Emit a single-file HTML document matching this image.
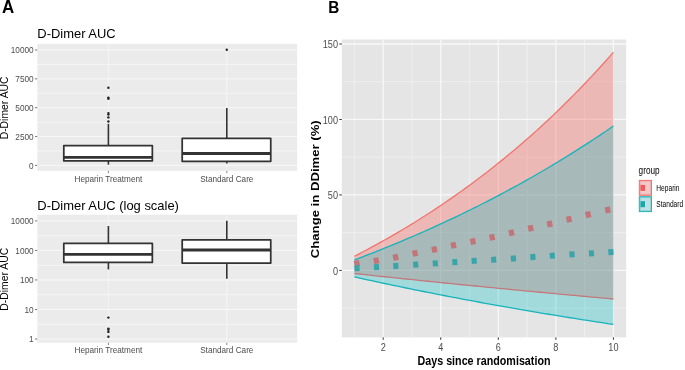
<!DOCTYPE html>
<html><head><meta charset="utf-8"><style>
html,body{margin:0;padding:0;background:#fff;width:685px;height:370px;overflow:hidden;font-family:"Liberation Sans",sans-serif;}
svg{display:block;filter:blur(0.3px);}
</style></head><body>
<svg width="685" height="370" viewBox="0 0 685 370">
<g transform="translate(2.1,12.9) scale(0.95,1)"><text x="0" y="0" font-size="17.8" font-weight="bold" fill="#000" font-family="Liberation Sans, sans-serif">A</text></g>
<g transform="translate(328.3,13.0) scale(0.88,1)"><text x="0" y="0" font-size="17.4" font-weight="bold" fill="#000" font-family="Liberation Sans, sans-serif">B</text></g>
<rect x="37.3" y="43.8" width="259.90" height="127.00" fill="#EBEBEB"/>
<line x1="37.3" x2="297.2" y1="150.97" y2="150.97" stroke="#F7F7F7" stroke-width="0.85"/>
<line x1="37.3" x2="297.2" y1="122.12" y2="122.12" stroke="#F7F7F7" stroke-width="0.85"/>
<line x1="37.3" x2="297.2" y1="93.28" y2="93.28" stroke="#F7F7F7" stroke-width="0.85"/>
<line x1="37.3" x2="297.2" y1="64.43" y2="64.43" stroke="#F7F7F7" stroke-width="0.85"/>
<line x1="37.3" x2="297.2" y1="165.40" y2="165.40" stroke="#F9F9F9" stroke-width="0.95"/>
<line x1="37.3" x2="297.2" y1="136.55" y2="136.55" stroke="#F9F9F9" stroke-width="0.95"/>
<line x1="37.3" x2="297.2" y1="107.70" y2="107.70" stroke="#F9F9F9" stroke-width="0.95"/>
<line x1="37.3" x2="297.2" y1="78.85" y2="78.85" stroke="#F9F9F9" stroke-width="0.95"/>
<line x1="37.3" x2="297.2" y1="50.00" y2="50.00" stroke="#F9F9F9" stroke-width="0.95"/>
<line x1="108.4" x2="108.4" y1="43.8" y2="170.8" stroke="#F6F6F6" stroke-width="0.85"/>
<line x1="226.8" x2="226.8" y1="43.8" y2="170.8" stroke="#F6F6F6" stroke-width="0.85"/>
<line x1="35.0" x2="37.3" y1="165.40" y2="165.40" stroke="#555" stroke-width="0.8"/>
<g transform="translate(33.7,168.60) scale(0.92,1)"><text x="0" y="0" font-size="9.0" fill="#4D4D4D" text-anchor="end" font-family="Liberation Sans, sans-serif">0</text></g>
<line x1="35.0" x2="37.3" y1="136.55" y2="136.55" stroke="#555" stroke-width="0.8"/>
<g transform="translate(33.7,139.75) scale(0.92,1)"><text x="0" y="0" font-size="9.0" fill="#4D4D4D" text-anchor="end" font-family="Liberation Sans, sans-serif">2500</text></g>
<line x1="35.0" x2="37.3" y1="107.70" y2="107.70" stroke="#555" stroke-width="0.8"/>
<g transform="translate(33.7,110.90) scale(0.92,1)"><text x="0" y="0" font-size="9.0" fill="#4D4D4D" text-anchor="end" font-family="Liberation Sans, sans-serif">5000</text></g>
<line x1="35.0" x2="37.3" y1="78.85" y2="78.85" stroke="#555" stroke-width="0.8"/>
<g transform="translate(33.7,82.05) scale(0.92,1)"><text x="0" y="0" font-size="9.0" fill="#4D4D4D" text-anchor="end" font-family="Liberation Sans, sans-serif">7500</text></g>
<line x1="35.0" x2="37.3" y1="50.00" y2="50.00" stroke="#555" stroke-width="0.8"/>
<g transform="translate(33.7,53.20) scale(0.92,1)"><text x="0" y="0" font-size="9.0" fill="#4D4D4D" text-anchor="end" font-family="Liberation Sans, sans-serif">10000</text></g>
<line x1="108.4" x2="108.4" y1="170.8" y2="173.10000000000002" stroke="#666" stroke-width="0.8"/>
<text x="108.4" y="181.50" font-size="8.2" fill="#4D4D4D" text-anchor="middle" font-family="Liberation Sans, sans-serif">Heparin Treatment</text>
<line x1="226.8" x2="226.8" y1="170.8" y2="173.10000000000002" stroke="#666" stroke-width="0.8"/>
<text x="226.8" y="181.50" font-size="8.2" fill="#4D4D4D" text-anchor="middle" font-family="Liberation Sans, sans-serif">Standard Care</text>
<text x="37.3" y="38.2" font-size="12.95" fill="#000" font-family="Liberation Sans, sans-serif">D-Dimer AUC</text>
<text transform="translate(8.1,107.90) rotate(-90)" x="0" y="0" font-size="10.4" fill="#000" text-anchor="middle" font-family="Liberation Sans, sans-serif">D-Dimer AUC</text>
<line x1="108.4" x2="108.4" y1="123.9" y2="145.5" stroke="#333" stroke-width="1.6"/>
<line x1="108.4" x2="108.4" y1="160.9" y2="164.7" stroke="#333" stroke-width="1.6"/>
<rect x="63.80" y="145.5" width="88.55" height="15.40" fill="#fff" stroke="#333" stroke-width="1.75" stroke-linejoin="round"/>
<line x1="63.80" x2="152.35" y1="157.3" y2="157.3" stroke="#333" stroke-width="2.8"/>
<line x1="226.8" x2="226.8" y1="107.9" y2="138.4" stroke="#333" stroke-width="1.6"/>
<line x1="226.8" x2="226.8" y1="161.3" y2="163.5" stroke="#333" stroke-width="1.6"/>
<rect x="182.20" y="138.4" width="88.55" height="22.90" fill="#fff" stroke="#333" stroke-width="1.75" stroke-linejoin="round"/>
<line x1="182.20" x2="270.75" y1="153.5" y2="153.5" stroke="#333" stroke-width="2.8"/>
<circle cx="108.4" cy="87.7" r="1.2" fill="#222"/>
<circle cx="108.4" cy="97.6" r="1.2" fill="#222"/>
<circle cx="108.4" cy="98.7" r="1.2" fill="#222"/>
<circle cx="108.4" cy="113.1" r="1.2" fill="#222"/>
<circle cx="108.4" cy="114.6" r="1.2" fill="#222"/>
<circle cx="108.4" cy="117.4" r="1.2" fill="#222"/>
<circle cx="108.4" cy="121.5" r="1.2" fill="#222"/>
<circle cx="226.8" cy="49.8" r="1.2" fill="#222"/>
<rect x="37.3" y="214.7" width="259.90" height="128.00" fill="#EBEBEB"/>
<line x1="37.3" x2="297.2" y1="324.24" y2="324.24" stroke="#F7F7F7" stroke-width="0.85"/>
<line x1="37.3" x2="297.2" y1="294.71" y2="294.71" stroke="#F7F7F7" stroke-width="0.85"/>
<line x1="37.3" x2="297.2" y1="265.19" y2="265.19" stroke="#F7F7F7" stroke-width="0.85"/>
<line x1="37.3" x2="297.2" y1="235.66" y2="235.66" stroke="#F7F7F7" stroke-width="0.85"/>
<line x1="37.3" x2="297.2" y1="339.00" y2="339.00" stroke="#F9F9F9" stroke-width="0.95"/>
<line x1="37.3" x2="297.2" y1="309.48" y2="309.48" stroke="#F9F9F9" stroke-width="0.95"/>
<line x1="37.3" x2="297.2" y1="279.95" y2="279.95" stroke="#F9F9F9" stroke-width="0.95"/>
<line x1="37.3" x2="297.2" y1="250.43" y2="250.43" stroke="#F9F9F9" stroke-width="0.95"/>
<line x1="37.3" x2="297.2" y1="220.90" y2="220.90" stroke="#F9F9F9" stroke-width="0.95"/>
<line x1="108.4" x2="108.4" y1="214.7" y2="342.7" stroke="#F6F6F6" stroke-width="0.85"/>
<line x1="226.8" x2="226.8" y1="214.7" y2="342.7" stroke="#F6F6F6" stroke-width="0.85"/>
<line x1="35.0" x2="37.3" y1="339.00" y2="339.00" stroke="#555" stroke-width="0.8"/>
<g transform="translate(33.7,342.20) scale(0.92,1)"><text x="0" y="0" font-size="9.0" fill="#4D4D4D" text-anchor="end" font-family="Liberation Sans, sans-serif">1</text></g>
<line x1="35.0" x2="37.3" y1="309.48" y2="309.48" stroke="#555" stroke-width="0.8"/>
<g transform="translate(33.7,312.68) scale(0.92,1)"><text x="0" y="0" font-size="9.0" fill="#4D4D4D" text-anchor="end" font-family="Liberation Sans, sans-serif">10</text></g>
<line x1="35.0" x2="37.3" y1="279.95" y2="279.95" stroke="#555" stroke-width="0.8"/>
<g transform="translate(33.7,283.15) scale(0.92,1)"><text x="0" y="0" font-size="9.0" fill="#4D4D4D" text-anchor="end" font-family="Liberation Sans, sans-serif">100</text></g>
<line x1="35.0" x2="37.3" y1="250.43" y2="250.43" stroke="#555" stroke-width="0.8"/>
<g transform="translate(33.7,253.62) scale(0.92,1)"><text x="0" y="0" font-size="9.0" fill="#4D4D4D" text-anchor="end" font-family="Liberation Sans, sans-serif">1000</text></g>
<line x1="35.0" x2="37.3" y1="220.90" y2="220.90" stroke="#555" stroke-width="0.8"/>
<g transform="translate(33.7,224.10) scale(0.92,1)"><text x="0" y="0" font-size="9.0" fill="#4D4D4D" text-anchor="end" font-family="Liberation Sans, sans-serif">10000</text></g>
<line x1="108.4" x2="108.4" y1="342.7" y2="345.0" stroke="#666" stroke-width="0.8"/>
<text x="108.4" y="353.40" font-size="8.2" fill="#4D4D4D" text-anchor="middle" font-family="Liberation Sans, sans-serif">Heparin Treatment</text>
<line x1="226.8" x2="226.8" y1="342.7" y2="345.0" stroke="#666" stroke-width="0.8"/>
<text x="226.8" y="353.40" font-size="8.2" fill="#4D4D4D" text-anchor="middle" font-family="Liberation Sans, sans-serif">Standard Care</text>
<text x="37.3" y="210.2" font-size="12.95" fill="#000" font-family="Liberation Sans, sans-serif">D-Dimer AUC (log scale)</text>
<text transform="translate(8.1,279.30) rotate(-90)" x="0" y="0" font-size="10.4" fill="#000" text-anchor="middle" font-family="Liberation Sans, sans-serif">D-Dimer AUC</text>
<line x1="108.4" x2="108.4" y1="226.0" y2="243.4" stroke="#333" stroke-width="1.6"/>
<line x1="108.4" x2="108.4" y1="262.4" y2="269.4" stroke="#333" stroke-width="1.6"/>
<rect x="63.80" y="243.4" width="88.55" height="19.00" fill="#fff" stroke="#333" stroke-width="1.75" stroke-linejoin="round"/>
<line x1="63.80" x2="152.35" y1="254.3" y2="254.3" stroke="#333" stroke-width="2.8"/>
<line x1="226.8" x2="226.8" y1="220.8" y2="239.8" stroke="#333" stroke-width="1.6"/>
<line x1="226.8" x2="226.8" y1="263.0" y2="278.8" stroke="#333" stroke-width="1.6"/>
<rect x="182.20" y="239.8" width="88.55" height="23.20" fill="#fff" stroke="#333" stroke-width="1.75" stroke-linejoin="round"/>
<line x1="182.20" x2="270.75" y1="250.0" y2="250.0" stroke="#333" stroke-width="2.8"/>
<circle cx="108.4" cy="317.6" r="1.2" fill="#222"/>
<circle cx="108.4" cy="328.6" r="1.2" fill="#222"/>
<circle cx="108.4" cy="329.8" r="1.2" fill="#222"/>
<circle cx="108.4" cy="331.9" r="1.2" fill="#222"/>
<circle cx="108.4" cy="336.7" r="1.2" fill="#222"/>
<rect x="341.8" y="39.5" width="284.40" height="297.90" fill="#E5E5E5"/>
<line x1="341.8" x2="626.2" y1="308.13" y2="308.13" stroke="#EFEFEF" stroke-width="0.9"/>
<line x1="341.8" x2="626.2" y1="232.67" y2="232.67" stroke="#EFEFEF" stroke-width="0.9"/>
<line x1="341.8" x2="626.2" y1="157.20" y2="157.20" stroke="#EFEFEF" stroke-width="0.9"/>
<line x1="341.8" x2="626.2" y1="81.74" y2="81.74" stroke="#EFEFEF" stroke-width="0.9"/>
<line x1="354.40" x2="354.40" y1="39.5" y2="337.4" stroke="#EFEFEF" stroke-width="0.9"/>
<line x1="411.96" x2="411.96" y1="39.5" y2="337.4" stroke="#EFEFEF" stroke-width="0.9"/>
<line x1="469.52" x2="469.52" y1="39.5" y2="337.4" stroke="#EFEFEF" stroke-width="0.9"/>
<line x1="527.08" x2="527.08" y1="39.5" y2="337.4" stroke="#EFEFEF" stroke-width="0.9"/>
<line x1="584.64" x2="584.64" y1="39.5" y2="337.4" stroke="#EFEFEF" stroke-width="0.9"/>
<line x1="341.8" x2="626.2" y1="270.40" y2="270.40" stroke="#F8F8F8" stroke-width="1.3"/>
<line x1="341.8" x2="626.2" y1="194.93" y2="194.93" stroke="#F8F8F8" stroke-width="1.3"/>
<line x1="341.8" x2="626.2" y1="119.47" y2="119.47" stroke="#F8F8F8" stroke-width="1.3"/>
<line x1="341.8" x2="626.2" y1="44.00" y2="44.00" stroke="#F8F8F8" stroke-width="1.3"/>
<line x1="383.18" x2="383.18" y1="39.5" y2="337.4" stroke="#F8F8F8" stroke-width="1.3"/>
<line x1="440.74" x2="440.74" y1="39.5" y2="337.4" stroke="#F8F8F8" stroke-width="1.3"/>
<line x1="498.30" x2="498.30" y1="39.5" y2="337.4" stroke="#F8F8F8" stroke-width="1.3"/>
<line x1="555.86" x2="555.86" y1="39.5" y2="337.4" stroke="#F8F8F8" stroke-width="1.3"/>
<line x1="613.42" x2="613.42" y1="39.5" y2="337.4" stroke="#F8F8F8" stroke-width="1.3"/>
<path d="M354.40,256.28 L358.72,254.05 L363.03,251.79 L367.35,249.50 L371.67,247.18 L375.98,244.83 L380.30,242.44 L384.62,240.03 L388.94,237.58 L393.25,235.10 L397.57,232.58 L401.89,230.03 L406.20,227.45 L410.52,224.83 L414.84,222.18 L419.15,219.49 L423.47,216.76 L427.79,214.00 L432.11,211.20 L436.42,208.36 L440.74,205.48 L445.06,202.57 L449.37,199.61 L453.69,196.62 L458.01,193.58 L462.32,190.51 L466.64,187.39 L470.96,184.23 L475.28,181.03 L479.59,177.78 L483.91,174.49 L488.23,171.16 L492.54,167.78 L496.86,164.35 L501.18,160.88 L505.50,157.37 L509.81,153.80 L514.13,150.19 L518.45,146.52 L522.76,142.81 L527.08,139.05 L531.40,135.24 L535.71,131.37 L540.03,127.46 L544.35,123.49 L548.66,119.47 L552.98,115.39 L557.30,111.26 L561.62,107.07 L565.93,102.82 L570.25,98.52 L574.57,94.16 L578.88,89.74 L583.20,85.27 L587.52,80.73 L591.84,76.13 L596.15,71.46 L600.47,66.74 L604.79,61.95 L609.10,57.09 L613.42,52.18 L613.42,298.99 L609.10,298.60 L604.79,298.22 L600.47,297.83 L596.15,297.44 L591.84,297.05 L587.52,296.65 L583.20,296.26 L578.88,295.87 L574.57,295.47 L570.25,295.07 L565.93,294.68 L561.62,294.28 L557.30,293.87 L552.98,293.47 L548.66,293.07 L544.35,292.66 L540.03,292.26 L535.71,291.85 L531.40,291.44 L527.08,291.03 L522.76,290.62 L518.45,290.21 L514.13,289.80 L509.81,289.38 L505.50,288.96 L501.18,288.55 L496.86,288.13 L492.54,287.71 L488.23,287.29 L483.91,286.86 L479.59,286.44 L475.28,286.01 L470.96,285.59 L466.64,285.16 L462.32,284.73 L458.01,284.30 L453.69,283.87 L449.37,283.43 L445.06,283.00 L440.74,282.56 L436.42,282.12 L432.11,281.68 L427.79,281.24 L423.47,280.80 L419.15,280.36 L414.84,279.91 L410.52,279.47 L406.20,279.02 L401.89,278.57 L397.57,278.12 L393.25,277.67 L388.94,277.21 L384.62,276.76 L380.30,276.30 L375.98,275.85 L371.67,275.39 L367.35,274.93 L363.03,274.46 L358.72,274.00 L354.40,273.54Z" fill="#F8766D" fill-opacity="0.4"/>
<path d="M354.40,256.28 L358.72,254.05 L363.03,251.79 L367.35,249.50 L371.67,247.18 L375.98,244.83 L380.30,242.44 L384.62,240.03 L388.94,237.58 L393.25,235.10 L397.57,232.58 L401.89,230.03 L406.20,227.45 L410.52,224.83 L414.84,222.18 L419.15,219.49 L423.47,216.76 L427.79,214.00 L432.11,211.20 L436.42,208.36 L440.74,205.48 L445.06,202.57 L449.37,199.61 L453.69,196.62 L458.01,193.58 L462.32,190.51 L466.64,187.39 L470.96,184.23 L475.28,181.03 L479.59,177.78 L483.91,174.49 L488.23,171.16 L492.54,167.78 L496.86,164.35 L501.18,160.88 L505.50,157.37 L509.81,153.80 L514.13,150.19 L518.45,146.52 L522.76,142.81 L527.08,139.05 L531.40,135.24 L535.71,131.37 L540.03,127.46 L544.35,123.49 L548.66,119.47 L552.98,115.39 L557.30,111.26 L561.62,107.07 L565.93,102.82 L570.25,98.52 L574.57,94.16 L578.88,89.74 L583.20,85.27 L587.52,80.73 L591.84,76.13 L596.15,71.46 L600.47,66.74 L604.79,61.95 L609.10,57.09 L613.42,52.18" fill="none" stroke="rgb(242,116,110)" stroke-width="1.3"/>
<path d="M354.40,259.93 L358.72,258.29 L363.03,256.64 L367.35,254.98 L371.67,253.29 L375.98,251.59 L380.30,249.88 L384.62,248.14 L388.94,246.39 L393.25,244.62 L397.57,242.83 L401.89,241.03 L406.20,239.20 L410.52,237.36 L414.84,235.50 L419.15,233.62 L423.47,231.72 L427.79,229.80 L432.11,227.87 L436.42,225.91 L440.74,223.93 L445.06,221.94 L449.37,219.92 L453.69,217.88 L458.01,215.82 L462.32,213.74 L466.64,211.65 L470.96,209.52 L475.28,207.38 L479.59,205.22 L483.91,203.03 L488.23,200.82 L492.54,198.59 L496.86,196.34 L501.18,194.06 L505.50,191.76 L509.81,189.44 L514.13,187.10 L518.45,184.73 L522.76,182.33 L527.08,179.92 L531.40,177.47 L535.71,175.01 L540.03,172.51 L544.35,170.00 L548.66,167.46 L552.98,164.89 L557.30,162.29 L561.62,159.67 L565.93,157.03 L570.25,154.35 L574.57,151.65 L578.88,148.92 L583.20,146.17 L587.52,143.38 L591.84,140.57 L596.15,137.73 L600.47,134.86 L604.79,131.97 L609.10,129.04 L613.42,126.08 L613.42,324.42 L609.10,323.77 L604.79,323.12 L600.47,322.47 L596.15,321.81 L591.84,321.14 L587.52,320.47 L583.20,319.80 L578.88,319.13 L574.57,318.44 L570.25,317.76 L565.93,317.07 L561.62,316.37 L557.30,315.67 L552.98,314.97 L548.66,314.26 L544.35,313.55 L540.03,312.83 L535.71,312.10 L531.40,311.38 L527.08,310.64 L522.76,309.90 L518.45,309.16 L514.13,308.41 L509.81,307.66 L505.50,306.90 L501.18,306.14 L496.86,305.37 L492.54,304.60 L488.23,303.82 L483.91,303.04 L479.59,302.25 L475.28,301.45 L470.96,300.65 L466.64,299.85 L462.32,299.04 L458.01,298.23 L453.69,297.40 L449.37,296.58 L445.06,295.75 L440.74,294.91 L436.42,294.07 L432.11,293.22 L427.79,292.36 L423.47,291.50 L419.15,290.64 L414.84,289.77 L410.52,288.89 L406.20,288.01 L401.89,287.12 L397.57,286.22 L393.25,285.32 L388.94,284.42 L384.62,283.50 L380.30,282.58 L375.98,281.66 L371.67,280.73 L367.35,279.79 L363.03,278.85 L358.72,277.90 L354.40,276.94Z" fill="#00BFC4" fill-opacity="0.29"/>
<path d="M354.40,273.54 L358.72,274.00 L363.03,274.46 L367.35,274.93 L371.67,275.39 L375.98,275.85 L380.30,276.30 L384.62,276.76 L388.94,277.21 L393.25,277.67 L397.57,278.12 L401.89,278.57 L406.20,279.02 L410.52,279.47 L414.84,279.91 L419.15,280.36 L423.47,280.80 L427.79,281.24 L432.11,281.68 L436.42,282.12 L440.74,282.56 L445.06,283.00 L449.37,283.43 L453.69,283.87 L458.01,284.30 L462.32,284.73 L466.64,285.16 L470.96,285.59 L475.28,286.01 L479.59,286.44 L483.91,286.86 L488.23,287.29 L492.54,287.71 L496.86,288.13 L501.18,288.55 L505.50,288.96 L509.81,289.38 L514.13,289.80 L518.45,290.21 L522.76,290.62 L527.08,291.03 L531.40,291.44 L535.71,291.85 L540.03,292.26 L544.35,292.66 L548.66,293.07 L552.98,293.47 L557.30,293.87 L561.62,294.28 L565.93,294.68 L570.25,295.07 L574.57,295.47 L578.88,295.87 L583.20,296.26 L587.52,296.65 L591.84,297.05 L596.15,297.44 L600.47,297.83 L604.79,298.22 L609.10,298.60 L613.42,298.99" fill="none" stroke="rgb(196,120,123)" stroke-width="1.3"/>
<path d="M354.40,259.93 L358.72,258.29 L363.03,256.64 L367.35,254.98 L371.67,253.29 L375.98,251.59 L380.30,249.88 L384.62,248.14 L388.94,246.39 L393.25,244.62 L397.57,242.83 L401.89,241.03 L406.20,239.20 L410.52,237.36 L414.84,235.50 L419.15,233.62 L423.47,231.72 L427.79,229.80 L432.11,227.87 L436.42,225.91 L440.74,223.93 L445.06,221.94 L449.37,219.92 L453.69,217.88 L458.01,215.82 L462.32,213.74 L466.64,211.65 L470.96,209.52 L475.28,207.38 L479.59,205.22 L483.91,203.03 L488.23,200.82 L492.54,198.59 L496.86,196.34 L501.18,194.06 L505.50,191.76 L509.81,189.44 L514.13,187.10 L518.45,184.73 L522.76,182.33 L527.08,179.92 L531.40,177.47 L535.71,175.01 L540.03,172.51 L544.35,170.00 L548.66,167.46 L552.98,164.89 L557.30,162.29 L561.62,159.67 L565.93,157.03 L570.25,154.35 L574.57,151.65 L578.88,148.92 L583.20,146.17 L587.52,143.38 L591.84,140.57 L596.15,137.73 L600.47,134.86 L604.79,131.97 L609.10,129.04 L613.42,126.08" fill="none" stroke="rgb(22,180,186)" stroke-width="1.3"/>
<path d="M354.40,276.94 L358.72,277.90 L363.03,278.85 L367.35,279.79 L371.67,280.73 L375.98,281.66 L380.30,282.58 L384.62,283.50 L388.94,284.42 L393.25,285.32 L397.57,286.22 L401.89,287.12 L406.20,288.01 L410.52,288.89 L414.84,289.77 L419.15,290.64 L423.47,291.50 L427.79,292.36 L432.11,293.22 L436.42,294.07 L440.74,294.91 L445.06,295.75 L449.37,296.58 L453.69,297.40 L458.01,298.23 L462.32,299.04 L466.64,299.85 L470.96,300.65 L475.28,301.45 L479.59,302.25 L483.91,303.04 L488.23,303.82 L492.54,304.60 L496.86,305.37 L501.18,306.14 L505.50,306.90 L509.81,307.66 L514.13,308.41 L518.45,309.16 L522.76,309.90 L527.08,310.64 L531.40,311.38 L535.71,312.10 L540.03,312.83 L544.35,313.55 L548.66,314.26 L552.98,314.97 L557.30,315.67 L561.62,316.37 L565.93,317.07 L570.25,317.76 L574.57,318.44 L578.88,319.13 L583.20,319.80 L587.52,320.47 L591.84,321.14 L596.15,321.81 L600.47,322.47 L604.79,323.12 L609.10,323.77 L613.42,324.42" fill="none" stroke="rgb(22,180,186)" stroke-width="1.3"/>
<rect x="354.40" y="260.50" width="5.2" height="6.2" fill="rgb(193,117,121)" transform="rotate(-12 357 263.6)"/>
<rect x="373.70" y="257.70" width="5.2" height="6.2" fill="rgb(193,117,121)" transform="rotate(-12 376.3 260.8)"/>
<rect x="393.10" y="254.10" width="5.2" height="6.2" fill="rgb(193,117,121)" transform="rotate(-12 395.7 257.2)"/>
<rect x="412.50" y="250.10" width="5.2" height="6.2" fill="rgb(193,117,121)" transform="rotate(-12 415.1 253.2)"/>
<rect x="431.80" y="246.40" width="5.2" height="6.2" fill="rgb(193,117,121)" transform="rotate(-12 434.4 249.5)"/>
<rect x="450.90" y="242.20" width="5.2" height="6.2" fill="rgb(193,117,121)" transform="rotate(-12 453.5 245.3)"/>
<rect x="470.30" y="238.30" width="5.2" height="6.2" fill="rgb(193,117,121)" transform="rotate(-12 472.9 241.4)"/>
<rect x="489.50" y="234.10" width="5.2" height="6.2" fill="rgb(193,117,121)" transform="rotate(-12 492.1 237.2)"/>
<rect x="508.90" y="229.70" width="5.2" height="6.2" fill="rgb(193,117,121)" transform="rotate(-12 511.5 232.8)"/>
<rect x="528.10" y="225.20" width="5.2" height="6.2" fill="rgb(193,117,121)" transform="rotate(-12 530.7 228.3)"/>
<rect x="547.10" y="220.80" width="5.2" height="6.2" fill="rgb(193,117,121)" transform="rotate(-12 549.7 223.9)"/>
<rect x="566.40" y="216.10" width="5.2" height="6.2" fill="rgb(193,117,121)" transform="rotate(-12 569 219.2)"/>
<rect x="585.60" y="211.50" width="5.2" height="6.2" fill="rgb(193,117,121)" transform="rotate(-12 588.2 214.6)"/>
<rect x="605.10" y="206.80" width="5.2" height="6.2" fill="rgb(193,117,121)" transform="rotate(-12 607.7 209.9)"/>
<rect x="354.45" y="265.20" width="5.1" height="6.0" fill="rgb(57,165,169)" transform="rotate(-4 357 268.2)"/>
<rect x="373.95" y="264.10" width="5.1" height="6.0" fill="rgb(57,165,169)" transform="rotate(-4 376.5 267.1)"/>
<rect x="393.25" y="263.00" width="5.1" height="6.0" fill="rgb(57,165,169)" transform="rotate(-4 395.8 266.0)"/>
<rect x="413.15" y="261.60" width="5.1" height="6.0" fill="rgb(57,165,169)" transform="rotate(-4 415.7 264.6)"/>
<rect x="432.75" y="260.40" width="5.1" height="6.0" fill="rgb(57,165,169)" transform="rotate(-4 435.3 263.4)"/>
<rect x="452.25" y="259.10" width="5.1" height="6.0" fill="rgb(57,165,169)" transform="rotate(-4 454.8 262.1)"/>
<rect x="471.65" y="257.80" width="5.1" height="6.0" fill="rgb(57,165,169)" transform="rotate(-4 474.2 260.8)"/>
<rect x="491.15" y="256.70" width="5.1" height="6.0" fill="rgb(57,165,169)" transform="rotate(-4 493.7 259.7)"/>
<rect x="510.85" y="255.50" width="5.1" height="6.0" fill="rgb(57,165,169)" transform="rotate(-4 513.4 258.5)"/>
<rect x="530.35" y="254.00" width="5.1" height="6.0" fill="rgb(57,165,169)" transform="rotate(-4 532.9 257.0)"/>
<rect x="549.75" y="252.70" width="5.1" height="6.0" fill="rgb(57,165,169)" transform="rotate(-4 552.3 255.7)"/>
<rect x="569.45" y="251.40" width="5.1" height="6.0" fill="rgb(57,165,169)" transform="rotate(-4 572 254.4)"/>
<rect x="588.95" y="250.40" width="5.1" height="6.0" fill="rgb(57,165,169)" transform="rotate(-4 591.5 253.4)"/>
<rect x="608.35" y="249.10" width="5.1" height="6.0" fill="rgb(57,165,169)" transform="rotate(-4 610.9 252.1)"/>
<line x1="339.3" x2="341.8" y1="270.40" y2="270.40" stroke="#333" stroke-width="1.0"/>
<g transform="translate(338.0,274.50) scale(0.8,1)"><text x="0" y="0" font-size="11.4" fill="#4D4D4D" text-anchor="end" font-family="Liberation Sans, sans-serif">0</text></g>
<line x1="339.3" x2="341.8" y1="194.93" y2="194.93" stroke="#333" stroke-width="1.0"/>
<g transform="translate(338.0,199.03) scale(0.8,1)"><text x="0" y="0" font-size="11.4" fill="#4D4D4D" text-anchor="end" font-family="Liberation Sans, sans-serif">50</text></g>
<line x1="339.3" x2="341.8" y1="119.47" y2="119.47" stroke="#333" stroke-width="1.0"/>
<g transform="translate(338.0,123.57) scale(0.8,1)"><text x="0" y="0" font-size="11.4" fill="#4D4D4D" text-anchor="end" font-family="Liberation Sans, sans-serif">100</text></g>
<line x1="339.3" x2="341.8" y1="44.00" y2="44.00" stroke="#333" stroke-width="1.0"/>
<g transform="translate(338.0,48.10) scale(0.8,1)"><text x="0" y="0" font-size="11.4" fill="#4D4D4D" text-anchor="end" font-family="Liberation Sans, sans-serif">150</text></g>
<line x1="383.18" x2="383.18" y1="337.4" y2="339.79999999999995" stroke="#333" stroke-width="1.0"/>
<g transform="translate(383.18,350.9) scale(0.8,1)"><text x="0" y="0" font-size="11.4" fill="#4D4D4D" text-anchor="middle" font-family="Liberation Sans, sans-serif">2</text></g>
<line x1="440.74" x2="440.74" y1="337.4" y2="339.79999999999995" stroke="#333" stroke-width="1.0"/>
<g transform="translate(440.74,350.9) scale(0.8,1)"><text x="0" y="0" font-size="11.4" fill="#4D4D4D" text-anchor="middle" font-family="Liberation Sans, sans-serif">4</text></g>
<line x1="498.30" x2="498.30" y1="337.4" y2="339.79999999999995" stroke="#333" stroke-width="1.0"/>
<g transform="translate(498.30,350.9) scale(0.8,1)"><text x="0" y="0" font-size="11.4" fill="#4D4D4D" text-anchor="middle" font-family="Liberation Sans, sans-serif">6</text></g>
<line x1="555.86" x2="555.86" y1="337.4" y2="339.79999999999995" stroke="#333" stroke-width="1.0"/>
<g transform="translate(555.86,350.9) scale(0.8,1)"><text x="0" y="0" font-size="11.4" fill="#4D4D4D" text-anchor="middle" font-family="Liberation Sans, sans-serif">8</text></g>
<line x1="613.42" x2="613.42" y1="337.4" y2="339.79999999999995" stroke="#333" stroke-width="1.0"/>
<g transform="translate(613.42,350.9) scale(0.8,1)"><text x="0" y="0" font-size="11.4" fill="#4D4D4D" text-anchor="middle" font-family="Liberation Sans, sans-serif">10</text></g>
<g transform="translate(484.00,365.2) scale(0.82,1)"><text x="0" y="0" font-size="13.1" font-weight="bold" fill="#000" text-anchor="middle" font-family="Liberation Sans, sans-serif">Days since randomisation</text></g>
<g transform="translate(319.2,189.25) scale(0.85,1) rotate(-90)"><text x="0" y="0" font-size="13.15" font-weight="bold" fill="#000" text-anchor="middle" font-family="Liberation Sans, sans-serif">Change in DDimer (%)</text></g>
<g transform="translate(638.6,173.5) scale(0.8,1)"><text x="0" y="0" font-size="10.3" fill="#000" font-family="Liberation Sans, sans-serif">group</text></g>
<rect x="639.3" y="180.40" width="12.2" height="14.9" fill="rgb(238,172,172)" stroke="rgb(240,112,110)" stroke-width="1.0"/>
<rect x="640.7" y="181.80" width="9.5" height="12.1" fill="rgb(242,200,200)"/>
<rect x="640.5" y="184.90" width="4.5" height="6.0" fill="rgb(240,90,90)"/>
<g transform="translate(656.3,190.80) scale(0.8,1)"><text x="0" y="0" font-size="8.3" fill="#000" font-family="Liberation Sans, sans-serif">Heparin</text></g>
<rect x="639.3" y="196.70" width="12.2" height="14.9" fill="rgb(140,208,210)" stroke="rgb(30,182,186)" stroke-width="1.0"/>
<rect x="640.7" y="198.10" width="9.5" height="12.1" fill="rgb(188,226,228)"/>
<rect x="640.5" y="201.20" width="4.5" height="6.0" fill="rgb(20,170,172)"/>
<g transform="translate(656.3,207.10) scale(0.8,1)"><text x="0" y="0" font-size="8.3" fill="#000" font-family="Liberation Sans, sans-serif">Standard</text></g>
</svg>
</body></html>
